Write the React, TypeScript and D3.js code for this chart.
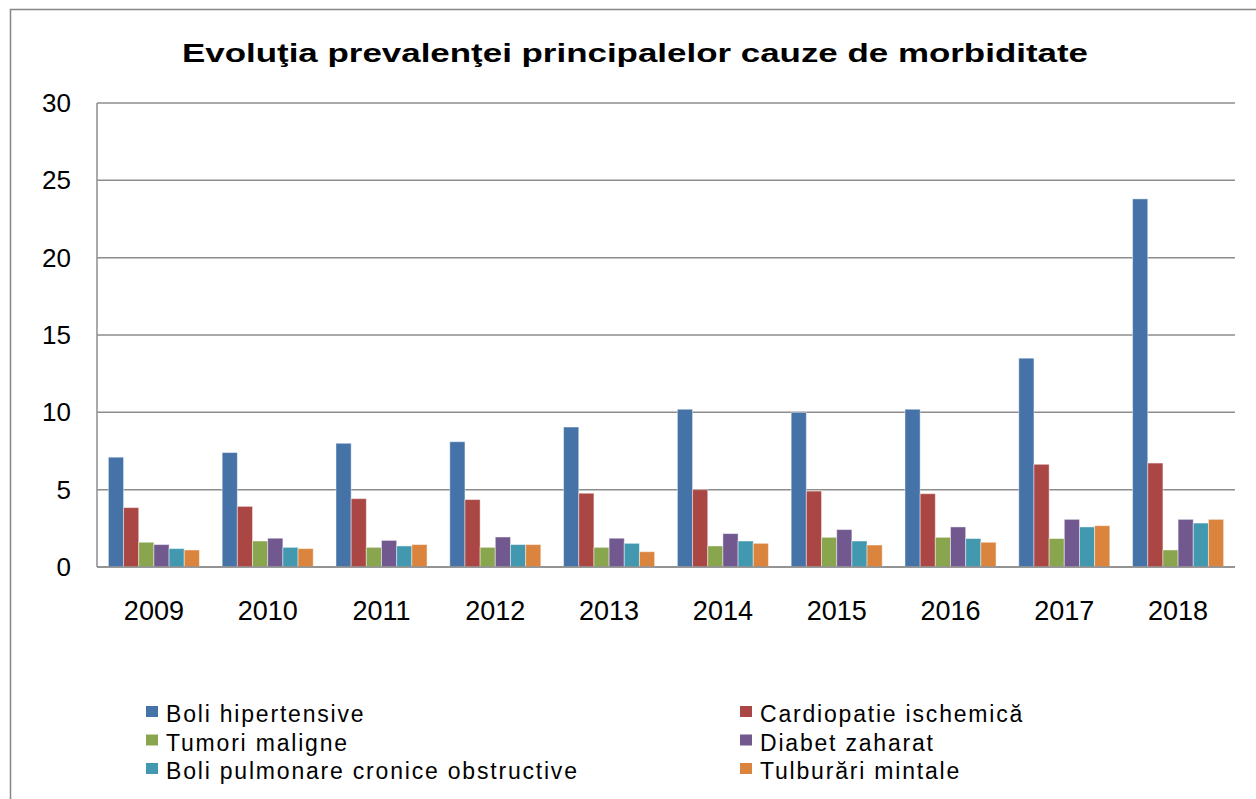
import React from "react";
import * as d3 from "d3";

const years = ["2009", "2010", "2011", "2012", "2013", "2014", "2015", "2016", "2017", "2018"];
const seriesNames = [
  "Boli hipertensive",
  "Cardiopatie ischemică",
  "Tumori maligne",
  "Diabet zaharat",
  "Boli pulmonare cronice obstructive",
  "Tulburări mintale",
];
const bolHipertensive = [7.1, 7.4, 8.0, 8.1, 9.05, 10.2, 10.0, 10.2, 13.5, 23.8];
const cardiopatie = [3.84, 3.92, 4.42, 4.36, 4.77, 5.0, 4.91, 4.74, 6.64, 6.72];
const tumori = [1.6, 1.68, 1.27, 1.27, 1.27, 1.36, 1.92, 1.92, 1.84, 1.1];
const diabet = [1.45, 1.86, 1.72, 1.94, 1.86, 2.16, 2.42, 2.59, 3.08, 3.08];
const bpoc = [1.19, 1.27, 1.36, 1.45, 1.53, 1.68, 1.68, 1.84, 2.59, 2.84];
const mintale = [1.1, 1.19, 1.45, 1.45, 0.99, 1.53, 1.42, 1.6, 2.67, 3.08];
const seriesValues = [bolHipertensive, cardiopatie, tumori, diabet, bpoc, mintale];
const colors = ["#4572A7", "#AA4643", "#89A54E", "#71588F", "#4198AF", "#DB843D"];
const yTicks = [0, 5, 10, 15, 20, 25, 30];

const W = 1256;
const H = 799;
const plot = { left: 97, right: 1235, top: 103, bottom: 567 };

export default function App() {
  const x = d3
    .scaleBand<string>()
    .domain(years)
    .range([plot.left, plot.right])
    .paddingInner(0.2)
    .paddingOuter(0.1);
  const xs = d3
    .scaleBand<number>()
    .domain(d3.range(seriesNames.length))
    .range([0, x.bandwidth()])
    .padding(0);
  const y = d3.scaleLinear().domain([0, 30]).range([plot.bottom, plot.top]);
  const font = "Arial, 'Liberation Sans', sans-serif";

  const legendRows = [712, 740.5, 769];
  const legendCols = [146, 740];

  return (
    <svg
      width={W}
      height={H}
      style={{ position: "absolute", left: 0, top: 0, background: "#fff" }}
      fontFamily={font}
    >
      <rect x={0} y={0} width={W} height={H} fill="#fff" />
      {/* outer frame */}
      <path d={`M10.5,${H + 2} V9.5 H${W + 2}`} fill="none" stroke="#868686" strokeWidth={1.5} />
      <text
        x={182}
        y={62}
        textAnchor="start"
        fontSize={26}
        fontWeight="bold"
        fill="#000"
        textLength={906}
        lengthAdjust="spacingAndGlyphs"
      >
        Evoluţia prevalenţei principalelor cauze de morbiditate
      </text>
      {/* plot area */}
      {yTicks.map((t) => (
        <g key={t}>
          <line
            x1={plot.left}
            x2={plot.right}
            y1={y(t)}
            y2={y(t)}
            stroke="#8c8c8c"
            strokeWidth={1.5}
          />
          <text
            x={71}
            y={y(t)}
            textAnchor="end"
            dominantBaseline="central"
            fontSize={26}
            fill="#000"
          >
            {t}
          </text>
        </g>
      ))}
      <line x1={plot.left} x2={plot.left} y1={plot.top} y2={plot.bottom} stroke="#8c8c8c" strokeWidth={1.5} />
      {years.map((yr, i) => (
        <g key={yr} transform={`translate(${x(yr)},0)`}>
          {seriesValues.map((vals, s) => (
            <rect
              key={s}
              x={xs(s)}
              y={y(vals[i])}
              width={xs.bandwidth()}
              height={y(0) - y(vals[i])}
              fill={colors[s]}
              stroke="rgba(255,255,255,0.45)"
              strokeWidth={1}
            />
          ))}
        </g>
      ))}
      <line x1={plot.left} x2={plot.right} y1={plot.bottom} y2={plot.bottom} stroke="#8c8c8c" strokeWidth={1.5} />
      {years.map((yr) => (
        <text
          key={yr}
          x={x(yr)! + x.bandwidth() / 2}
          y={611}
          textAnchor="middle"
          dominantBaseline="central"
          fontSize={27}
          fill="#000"
        >
          {yr}
        </text>
      ))}
      {/* legend */}
      {seriesNames.map((name, s) => {
        const col = s % 2;
        const row = Math.floor(s / 2);
        const lx = legendCols[col];
        const ly = legendRows[row];
        return (
          <g key={name}>
            <rect x={lx} y={ly - 6} width={12} height={11} fill={colors[s]} />
            <text
              x={lx + 20}
              y={ly + 10}
              fontSize={23}
              fill="#000"
              letterSpacing={1.8}
            >
              {name}
            </text>
          </g>
        );
      })}
    </svg>
  );
}
